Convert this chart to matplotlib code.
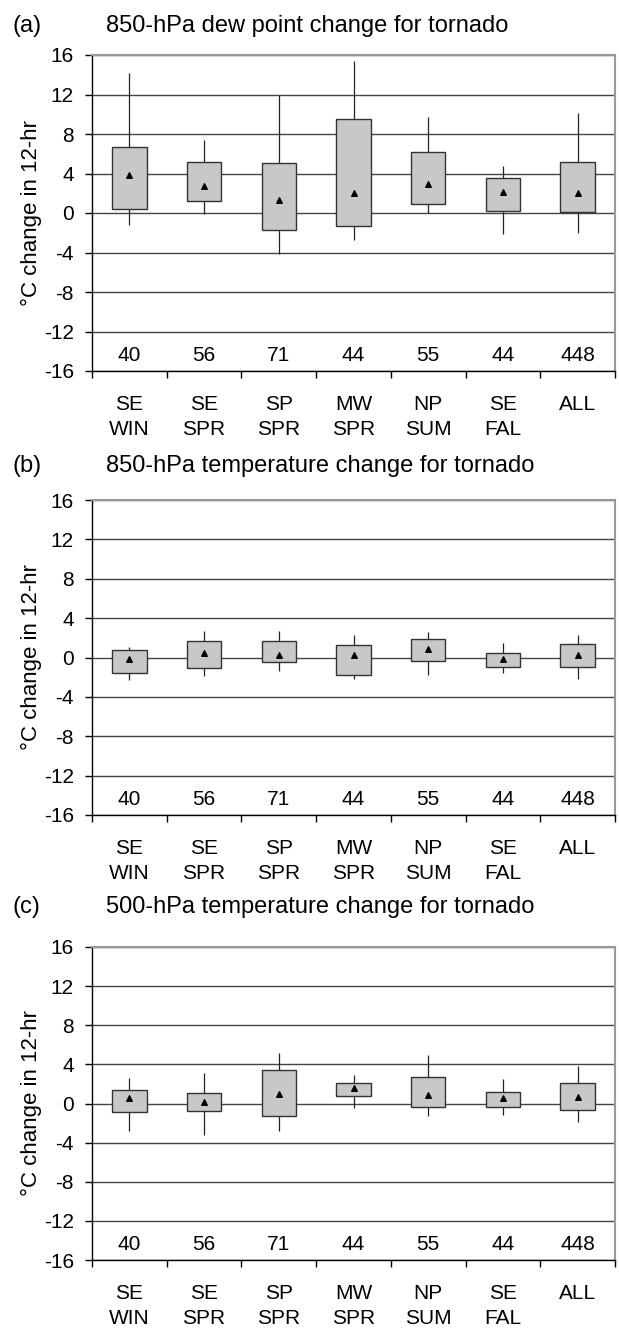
import matplotlib
matplotlib.use('agg')

import numpy as np
import matplotlib.pyplot as plt

plt.rcParams['font.family'] = ['Liberation Sans', 'DejaVu Sans']
plt.rcParams['axes.unicode_minus'] = False

categories = ['SE\nWIN', 'SE\nSPR', 'SP\nSPR', 'MW\nSPR', 'NP\nSUM', 'SE\nFAL', 'ALL']
counts = [40, 56, 71, 44, 55, 44, 448]

titles = ['850-hPa dew point change for tornado',
          '850-hPa temperature change for tornado',
          '500-hPa temperature change for tornado']
letters = ['(a)', '(b)', '(c)']

# (a) 850-hPa dew point
a_low = [-1.2, -0.1, -4.2, -2.7, 0.0, -2.15, -2.05]
a_q1 = [0.4, 1.2, -1.7, -1.35, 0.9, 0.2, 0.07]
a_mean = [3.85, 2.75, 1.3, 2.0, 2.9, 2.15, 2.0]
a_q3 = [6.7, 5.2, 5.1, 9.5, 6.2, 3.5, 5.2]
a_high = [14.2, 7.4, 12.0, 15.4, 9.7, 4.8, 10.1]

# (b) 850-hPa temperature
b_low = [-2.3, -1.9, -1.35, -2.2, -1.8, -1.6, -2.2]
b_q1 = [-1.6, -1.1, -0.45, -1.76, -0.37, -1.0, -1.0]
b_mean = [-0.2, 0.5, 0.3, 0.3, 0.9, -0.2, 0.3]
b_q3 = [0.8, 1.7, 1.7, 1.3, 1.9, 0.5, 1.33]
b_high = [1.1, 2.7, 2.65, 2.3, 2.6, 1.5, 2.3]

# (c) 500-hPa temperature
c_low = [-2.8, -3.2, -2.8, -0.5, -1.3, -1.2, -1.9]
c_q1 = [-0.85, -0.8, -1.3, 0.75, -0.4, -0.4, -0.68]
c_mean = [0.57, 0.17, 1.0, 1.6, 0.9, 0.55, 0.7]
c_q3 = [1.35, 1.1, 3.45, 2.06, 2.7, 1.2, 2.06]
c_high = [2.6, 3.1, 5.2, 2.9, 5.0, 2.5, 3.85]

panels = [(a_low, a_q1, a_mean, a_q3, a_high),
          (b_low, b_q1, b_mean, b_q3, b_high),
          (c_low, c_q1, c_mean, c_q3, c_high)]

W, H = 619, 1328
fig = plt.figure(figsize=(W / 100, H / 100), dpi=100)

ax_left, ax_right = 92, 615
ax_tops = [55, 500, 947]
ax_bots = [371, 815, 1260]
title_base = [32, 472, 913]

x = np.arange(len(categories))

for i, (low, q1, mean, q3, high) in enumerate(panels):
  ax = fig.add_axes([ax_left / W, 1 - ax_bots[i] / H,
                     (ax_right - ax_left) / W, (ax_bots[i] - ax_tops[i]) / H])
  ax.set_xlim(-0.5, len(categories) - 0.5)
  ax.set_ylim(-16, 16)
  ax.set_yticks(np.arange(-16, 17, 4))
  ax.yaxis.grid(True, color='#444444', linewidth=1.0)
  ax.set_axisbelow(True)

  q1 = np.array(q1)
  q3 = np.array(q3)
  ax.vlines(x, low, q1, color='#222222', linewidth=0.9, zorder=2)
  ax.vlines(x, q3, high, color='#222222', linewidth=0.9, zorder=2)
  ax.bar(x, q3 - q1, bottom=q1, width=0.46, color='#c8c8c8',
         edgecolor='#333333', linewidth=1.0, zorder=3)
  ax.scatter(x, mean, marker='^', s=16, color='black', zorder=4)

  for xi, n in zip(x, counts):
    ax.text(xi, -14.4, str(n), ha='center', va='center', fontsize=15)

  ax.set_xticks(np.arange(-0.5, len(categories)), minor=False)
  ax.set_xticklabels([])
  ax.set_xticks(x, minor=True)
  ax.set_xticklabels(categories, minor=True, fontsize=15, linespacing=1.45)
  ax.tick_params(axis='x', which='major', direction='out', length=5, width=1)
  ax.tick_params(axis='x', which='minor', length=0, pad=17)
  ax.tick_params(axis='y', direction='out', length=5, width=1, labelsize=15, pad=8)

  for side in ['top', 'right']:
    ax.spines[side].set_color('#999999')
    ax.spines[side].set_linewidth(1.5)
  ax.spines['left'].set_linewidth(1.0)
  ax.spines['bottom'].set_linewidth(1.0)

  ax.set_ylabel('°C change in 12-hr', fontsize=16, va='center')
  ax.yaxis.set_label_coords((31 - ax_left) / (ax_right - ax_left), 0.5)

  fig.text(12 / W, 1 - title_base[i] / H, letters[i], fontsize=17, va='baseline', ha='left')
  fig.text(106 / W, 1 - title_base[i] / H, titles[i], fontsize=17, va='baseline', ha='left')

plt.savefig('out.png', dpi=100)
